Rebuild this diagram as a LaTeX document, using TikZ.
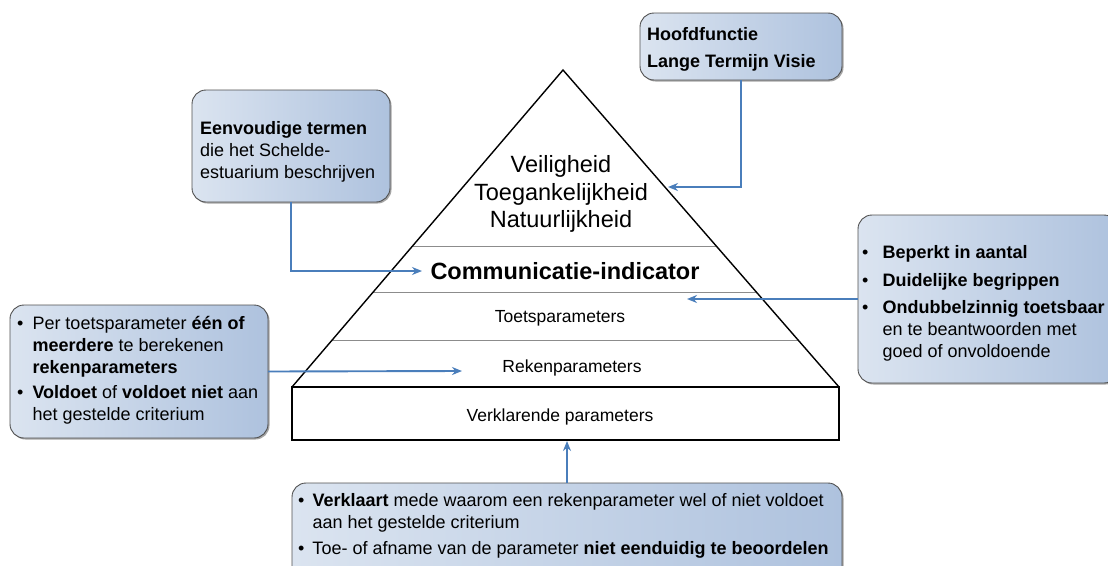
\documentclass[tikz,border=0pt]{standalone}
\usepackage{fontspec}
\setmainfont{Liberation Sans}
\usetikzlibrary{shadows,arrows.meta,calc}
\definecolor{boxA}{HTML}{DBE4F0}
\definecolor{boxB}{HTML}{AEC2DE}
\definecolor{arr}{HTML}{4A7EBB}
\definecolor{bord}{HTML}{505050}
\definecolor{band}{HTML}{8C8C8C}
\begin{document}
\begin{tikzpicture}[x=1pt,y=-1pt,
  infobox/.style={draw=bord, line width=0.9pt, rounded corners=14pt,
    left color=boxA, right color=boxB, inner sep=0pt, outer sep=0pt,
    anchor=north west,
    drop shadow={shadow xshift=1.5pt, shadow yshift=-1.5pt, opacity=0.35, fill=black}},
  conn/.style={draw=arr, line width=1.9pt, -{Stealth[length=10pt,width=8pt]}},
  btxt/.style={inner sep=0pt, anchor=base west, font=\fontsize{18}{22}\selectfont},
  ptop/.style={inner sep=0pt, anchor=base, font=\fontsize{23.5}{27}\selectfont},
  pmid/.style={inner sep=0pt, anchor=base, font=\fontsize{17.5}{21}\selectfont},
  pline/.style={draw=black, line width=1.4pt},
  bandline/.style={draw=band, line width=0.8pt}]
\useasboundingbox (0,0) rectangle (1108,565);
\fill[white] (0,0) rectangle (1108,565);

% ---------- pyramid ----------
\coordinate (apex) at (563,70);
\coordinate (pl) at (292,387);
\coordinate (pr) at (839,387);
\coordinate (bl) at (292,440);
\coordinate (br) at (839,440);
\draw[bandline] ($(apex)!0.5552!(pl)$) -- ($(apex)!0.5552!(pr)$);
\draw[bandline] ($(apex)!0.7003!(pl)$) -- ($(apex)!0.7003!(pr)$);
\draw[bandline] ($(apex)!0.8517!(pl)$) -- ($(apex)!0.8517!(pr)$);
\draw[pline, line join=miter] (pl) -- (apex) -- (pr);
\draw[pline] (pl) rectangle (br);

\node[ptop] (t1) at (561,172.5) {Veiligheid};
\node[ptop] (t2) at (561,200) {Toegankelijkheid};
\node[ptop] (t3) at (561,227.5) {Natuurlijkheid};
\node[ptop, font=\fontsize{23.5}{27}\selectfont\bfseries] (t4) at (565,279.5) {Communicatie-indicator};
\node[pmid] (t5) at (560,322.3) {Toetsparameters};
\node[pmid] (t6) at (572,372) {Rekenparameters};
\node[pmid] (t7) at (560,421) {Verklarende parameters};

% ---------- boxes ----------
\node[infobox, minimum width=202pt, minimum height=67pt] (hb) at (640,13) {};
\node[infobox, minimum width=198pt, minimum height=112pt] (eb) at (192,90) {};
\node[infobox, minimum width=260pt, minimum height=168pt] (rb) at (858,215) {};
\node[infobox, minimum width=258pt, minimum height=133pt] (lb) at (10,305) {};
\node[infobox, minimum width=550pt, minimum height=100pt] (bb) at (292,483) {};

% box texts
\node[btxt, font=\fontsize{18}{27}\selectfont\bfseries] (hbt) at (647,40.5) {%
  \begin{tabular}[t]{@{}l@{}}
  Hoofdfunctie\\
  Lange Termijn Visie
  \end{tabular}};
\node[btxt] (ebt) at (200,134.5) {%
  \begin{tabular}[t]{@{}l@{}}
  \textbf{Eenvoudige termen}\\
  die het Schelde-\\
  estuarium beschrijven
  \end{tabular}};

\node[btxt] (rbt) at (862,258.5) {%
  \begin{tabular}[t]{@{}l@{\hspace{14pt}}l@{}}
  \textbullet & \textbf{Beperkt in aantal}\\[6pt]
  \textbullet & \textbf{Duidelijke begrippen}\\[5pt]
  \textbullet & \textbf{Ondubbelzinnig toetsbaar}\\
   & en te beantwoorden met\\
   & goed of onvoldoende
  \end{tabular}};

\node[btxt] (lbt) at (17,329.5) {%
  \begin{tabular}[t]{@{}l@{\hspace{9pt}}l@{}}
  \textbullet & Per toetsparameter \textbf{één of}\\
   & \textbf{meerdere} te berekenen\\
   & \textbf{rekenparameters}\\[3pt]
  \textbullet & \textbf{Voldoet} of \textbf{voldoet niet} aan\\
   & het gestelde criterium
  \end{tabular}};

\node[btxt] (bbt) at (298,506.5) {%
  \begin{tabular}[t]{@{}l@{\hspace{8pt}}l@{}}
  \textbullet & \textbf{Verklaart} mede waarom een rekenparameter wel of niet voldoet\\
   & aan het gestelde criterium\\[4pt]
  \textbullet & Toe- of afname van de parameter \textbf{niet eenduidig te beoordelen}
  \end{tabular}};

% ---------- connectors ----------
\coordinate (ta) at (668,187);
\coordinate (tb) at (422,271);
\coordinate (tc) at (687,299);
\coordinate (td) at (462,371);
\coordinate (te) at (567,441);
\draw[conn] (hb.south) |- (ta);
\draw[conn] (eb.south) |- (tb);
\draw[conn] (rb.west) -- (tc);
\draw[conn] (lb.east) -- (td);
\draw[conn] (bb.north) -- (te);
\end{tikzpicture}
\end{document}
